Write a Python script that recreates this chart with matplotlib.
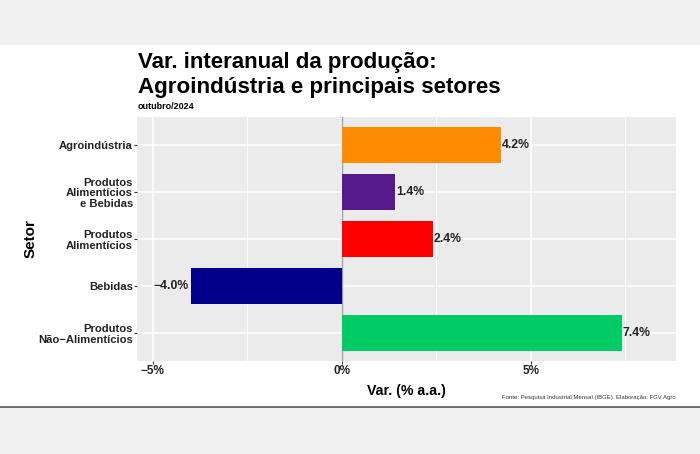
import matplotlib
matplotlib.use("Agg")
import matplotlib.pyplot as plt
from matplotlib.lines import Line2D
from matplotlib.patches import Rectangle

categories = ["Agroindústria", "Produtos\nAlimentícios\ne Bebidas", "Produtos\nAlimentícios",
              "Bebidas", "Produtos\nNão\u2212Alimentícios"]
values = [4.2, 1.4, 2.4, -4.0, 7.4]
labels = ["4.2%", "1.4%", "2.4%", "\u22124.0%", "7.4%"]
colors = ["#FF8C00", "#551A8B", "#FF0000", "#00008B", "#00CC66"]
xticks = [-5, 0, 5]
xticklabels = ["\u22125%", "0%", "5%"]

plt.rcParams['font.family'] = ['Liberation Sans', 'DejaVu Sans']

W, H = 700, 454
fig = plt.figure(figsize=(7, 4.54), dpi=100)
fig.patch.set_facecolor("white")

# background bands
fig.patches.append(Rectangle((0, 1 - 45 / H), 1, 45 / H, transform=fig.transFigure,
                             facecolor="#F0F0F0", edgecolor="none", zorder=0))
fig.patches.append(Rectangle((0, 0), 1, 1 - 406.5 / H, transform=fig.transFigure,
                             facecolor="#F0F0F0", edgecolor="none", zorder=0))
fig.lines.append(Line2D([0, 1], [1 - 406.5 / H] * 2, transform=fig.transFigure,
                        color="#555555", lw=1.2))

left, right, top, bottom = 137, 676, 117, 361
ax = fig.add_axes([left / W, 1 - bottom / H, (right - left) / W, (bottom - top) / H])
ax.set_facecolor("#EBEBEB")
for s in ax.spines.values():
    s.set_visible(False)

ypos = list(range(len(categories)))
ax.set_xlim(-5.42, 8.84)
ax.set_ylim(len(categories) - 0.4, -0.6)

ax.set_xticks(xticks)
ax.set_xticklabels(xticklabels, fontsize=8.5, fontweight="bold", color="#222222")
ax.set_xticks([-2.5, 2.5, 7.5], minor=True)
ax.set_yticks(ypos)
ax.set_yticklabels(categories, fontsize=8.1, fontweight="bold", color="#222222",
                   linespacing=1.1)
ax.tick_params(axis="both", which="major", length=2.2, width=0.8, color="#333333", pad=0.8)
ax.tick_params(axis="x", which="minor", length=0)
ax.grid(True, which="major", color="white", lw=1.1, zorder=0)
ax.grid(True, which="minor", axis="x", color="white", lw=0.6, zorder=0)
ax.set_axisbelow(True)

ax.axvline(0, color="#A0A0A0", lw=1.0, zorder=1)
ax.barh(ypos, values, height=0.78, color=colors, zorder=2)

for y, v, lab in zip(ypos, values, labels):
    if v >= 0:
        ax.annotate(lab, (v, y), xytext=(1.0, 0), textcoords="offset points",
                    ha="left", va="center", fontsize=8.8, fontweight="bold", color="#222222")
    else:
        ax.annotate(lab, (v, y), xytext=(-1.5, 0), textcoords="offset points",
                    ha="right", va="center", fontsize=8.8, fontweight="bold", color="#222222")

ax.set_xlabel("Var. (% a.a.)", fontsize=10.2, fontweight="bold", labelpad=5)
ax.set_ylabel("Setor", fontsize=11, fontweight="bold")
ax.yaxis.set_label_coords((38 - left) / (right - left), 0.5)

fig.text(138 / W, 1 - 68 / H, "Var. interanual da produção:", fontsize=16,
         fontweight="bold", ha="left", va="baseline")
fig.text(138 / W, 1 - 93 / H, "Agroindústria e principais setores", fontsize=16.1,
         fontweight="bold", ha="left", va="baseline")
fig.text(138 / W, 1 - 109 / H, "outubro/2024", fontsize=6.5,
         fontweight="bold", ha="left", va="baseline")
fig.text(676 / W, 1 - 399 / H, "Fonte: Pesquisa Industrial Mensal (IBGE). Elaboração: FGV Agro",
         fontsize=4.3, ha="right", va="baseline", color="#333333")

fig.savefig("out.png", dpi=100)
